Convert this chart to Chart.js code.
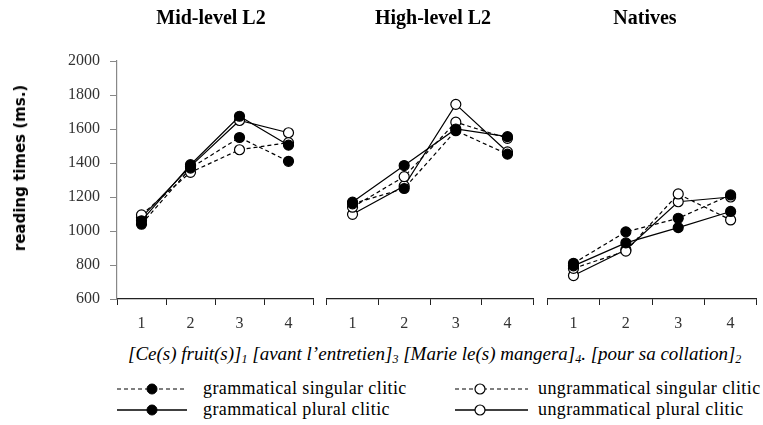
<!DOCTYPE html>
<html><head><meta charset="utf-8">
<script src="https://cdn.jsdelivr.net/npm/chart.js@4.4.0/dist/chart.umd.min.js"></script>
<style>
html,body{margin:0;padding:0;background:#fff;width:763px;height:425px;overflow:hidden;}
#wrap{position:relative;width:763px;height:425px;}
canvas{position:absolute;top:0;}
.ttl{position:absolute;top:6px;font-family:"Liberation Serif",serif;font-weight:bold;font-size:20px;color:#000;transform:translateX(-50%);white-space:nowrap;}
#xt{position:absolute;left:128px;top:343px;font-family:"Liberation Serif",serif;font-style:italic;font-size:19px;color:#000;white-space:nowrap;}
#xt sub{font-size:12px;vertical-align:-3px;line-height:0;}
#yt{position:absolute;left:20px;top:168px;transform:translate(-50%,-50%) rotate(-90deg);font-family:"DejaVu Sans",sans-serif;font-weight:bold;font-size:15px;color:#000;white-space:nowrap;}
.lg{position:absolute;font-family:"Liberation Serif",serif;font-size:18px;letter-spacing:0.4px;color:#000;white-space:nowrap;}
.sw{position:absolute;}
</style></head>
<body><div id="wrap">
<canvas id="c1" width="320" height="340" style="left:0"></canvas>
<canvas id="c2" width="220" height="340" style="left:320px"></canvas>
<canvas id="c3" width="223" height="340" style="left:540px"></canvas>
<div class="ttl" style="left:211px">Mid-level L2</div>
<div class="ttl" style="left:433px">High-level L2</div>
<div class="ttl" style="left:645px">Natives</div>
<div id="yt">reading times (ms.)</div>
<div id="xt">[Ce(s) fruit(s)]<sub>1</sub> [avant l’entretien]<sub>3</sub> [Marie le(s) mangera]<sub>4</sub>. [pour sa collation]<sub>2</sub></div>
<svg class="sw" style="left:117px;top:380px" width="72" height="40">
 <line x1="0" y1="9" x2="70" y2="9" stroke="#000" stroke-width="1.2" stroke-dasharray="4,3"/>
 <circle cx="35" cy="9" r="5" fill="#000" stroke="#000"/>
 <line x1="0" y1="30" x2="70" y2="30" stroke="#000" stroke-width="1.4"/>
 <circle cx="35" cy="30" r="5" fill="#000" stroke="#000"/>
</svg>
<svg class="sw" style="left:455px;top:380px" width="75" height="40">
 <line x1="0" y1="9" x2="73" y2="9" stroke="#000" stroke-width="1.2" stroke-dasharray="4,3"/>
 <circle cx="25" cy="9" r="5" fill="#fff" stroke="#000" stroke-width="1.2"/>
 <line x1="0" y1="30" x2="73" y2="30" stroke="#000" stroke-width="1.4"/>
 <circle cx="25" cy="30" r="5" fill="#fff" stroke="#000" stroke-width="1.2"/>
</svg>
<div class="lg" id="l1" style="left:203px;top:378px"></div>
<div class="lg" id="l2" style="left:203px;top:399px"></div>
<div class="lg" id="l3" style="left:538px;top:378px"></div>
<div class="lg" id="l4" style="left:538px;top:399px"></div>
</div>
<script>
// ---- data ----
const categories = ['1','2','3','4'];
const panelTitles = ['Mid-level L2','High-level L2','Natives'];
const seriesNames = ['grammatical singular clitic','grammatical plural clitic','ungrammatical singular clitic','ungrammatical plural clitic'];
const yTicks = [600,800,1000,1200,1400,1600,1800,2000];

const midGramSing   = [1040, 1370, 1550, 1410];
const midGramPlur   = [1060, 1390, 1675, 1505];
const midUngramSing = [1095, 1345, 1478, 1520];
const midUngramPlur = [1080, 1380, 1650, 1578];

const highGramSing   = [1160, 1250, 1590, 1452];
const highGramPlur   = [1170, 1385, 1600, 1555];
const highUngramSing = [1140, 1320, 1640, 1545];
const highUngramPlur = [1098, 1265, 1745, 1465];

const natGramSing   = [810, 995, 1075, 1212];
const natGramPlur   = [795, 930, 1020, 1115];
const natUngramSing = [780, 882, 1218, 1065];
const natUngramPlur = [738, 890, 1172, 1200];

document.getElementById('l1').textContent = seriesNames[0];
document.getElementById('l2').textContent = seriesNames[1];
document.getElementById('l3').textContent = seriesNames[2];
document.getElementById('l4').textContent = seriesNames[3];

Chart.defaults.font.family = "'Liberation Serif', serif";

function ds(label, data, filled, dashed){
  return {label, data, borderColor:'#000', borderWidth:1.2, borderDash: dashed?[4,3]:[],
    pointRadius:5, pointHoverRadius:5, pointBackgroundColor: filled?'#000':'#fff',
    pointBorderColor:'#000', pointBorderWidth:1.2, tension:0, fill:false};
}
function makeChart(id, sets, showY, pad){
  return new Chart(document.getElementById(id), {
    type:'line',
    data:{labels:categories, datasets:[
      ds(seriesNames[0], sets[0], true, true),
      ds(seriesNames[1], sets[1], true, false),
      ds(seriesNames[2], sets[2], false, true),
      ds(seriesNames[3], sets[3], false, false)
    ]},
    options:{
      responsive:false, animation:false, devicePixelRatio:1,
      layout:{padding:pad},
      plugins:{legend:{display:false}, tooltip:{enabled:false}},
      scales:{
        x:{type:'category', offset:true,
          grid:{offset:true, drawOnChartArea:false, drawTicks:true, tickLength:6, color:'#222', lineWidth:1},
          border:{display:true, color:'#222', width:1.2},
          ticks:{font:{family:"'Liberation Serif', serif", size:16}, color:'#333', padding:9},
          afterFit:s=>{s.height=41;}
        },
        y:{display:showY, min:600, max:2000,
          afterBuildTicks:s=>{s.ticks = yTicks.map(v=>({value:v}));},
          grid:{drawOnChartArea:false, drawTicks:true, tickLength:7, color:'#888'},
          border:{display:true, color:'#888', width:1.2},
          ticks:{font:{family:"'Liberation Serif', serif", size:16}, color:'#333', padding:10,
            callback:v=>String(v)},
          afterFit:s=>{ if (showY) s.width=117; else s.width=0; }
        }
      }
    }
  });
}
makeChart('c1', [midGramSing, midGramPlur, midUngramSing, midUngramPlur], true, {top:61,left:0,right:7,bottom:0});
makeChart('c2', [highGramSing, highGramPlur, highUngramSing, highUngramPlur], false, {top:61,left:6.7,right:6.7,bottom:0});
makeChart('c3', [natGramSing, natGramPlur, natUngramSing, natUngramPlur], false, {top:61,left:7.3,right:3,bottom:0});
</script>
</body></html>
